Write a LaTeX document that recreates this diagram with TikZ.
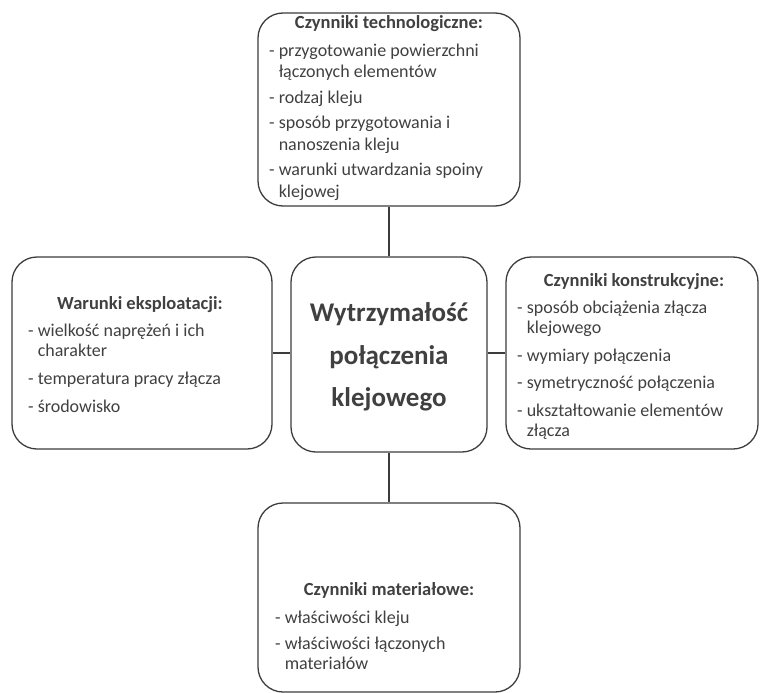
\documentclass[tikz,border=0pt]{standalone}
\usepackage{fontspec}
\setmainfont{Carlito}
\definecolor{ink}{HTML}{404040}
\definecolor{edge}{HTML}{3C3C3C}
\tikzset{
  x=1pt, y=-1pt,
  box/.style={draw=edge, line width=1.3pt, rounded corners=25pt, inner sep=0pt},
  link/.style={draw=edge, line width=1.2pt},
  head/.style={text=ink, font=\fontsize{18.5}{21}\selectfont\bfseries, anchor=base, inner sep=0pt},
  items/.style={text=ink, anchor=north west, align=left, inner sep=0pt},
  core/.style={text=ink, font=\fontsize{27}{42.5}\selectfont\bfseries, align=center, anchor=north, inner sep=0pt}
}
\newcommand{\ind}{\hphantom{- }}
\begin{document}
\begin{tikzpicture}
\useasboundingbox (0,0) rectangle (760,693);
% boxes
\node[box, minimum width=262pt, minimum height=193pt] (top) at (389,109.5) {};
\node[box, minimum width=260pt, minimum height=192pt] (left) at (142,353) {};
\node[box, minimum width=196pt, minimum height=195pt] (center) at (389,354.5) {};
\node[box, minimum width=252pt, minimum height=192pt] (right) at (632,353) {};
\node[box, minimum width=262pt, minimum height=189pt] (bottom) at (389,597.5) {};
% connectors
\draw[link] (top.south) -- (center.north);
\draw[link] (center.south) -- (bottom.north);
\draw[link] (left.east) -- (left.east -| center.west);
\draw[link] (right.west) -- (right.west -| center.east);
% center text
\node[core] (ctext) at (389,292) {\strut Wytrzymałość\\połączenia\\klejowego};
% top
\node[head] (toph) at (389,29) {Czynniki technologiczne:};
\node[items, font=\fontsize{18}{21.5}\selectfont] (topi) at (269,40.9) {\strut- przygotowanie powierzchni\\\ind łączonych elementów\\[4pt]- rodzaj kleju\\[4pt]- sposób przygotowania i\\\ind nanoszenia kleju\\[4pt]- warunki utwardzania spoiny\\\ind klejowej};
% left
\node[head] (lefth) at (140,309) {Warunki eksploatacji:};
\node[items, font=\fontsize{18}{20}\selectfont] (lefti) at (28,322) {\strut- wielkość naprężeń i ich\\\ind charakter\\[8pt]- temperatura pracy złącza\\[8pt]- środowisko};
% right
\node[head] (righth) at (634,286) {Czynniki konstrukcyjne:};
\node[items, font=\fontsize{18}{20.5}\selectfont] (righti) at (517,298.6) {\strut- sposób obciążenia złącza\\\ind klejowego\\[7pt]- wymiary połączenia\\[7pt]- symetryczność połączenia\\[7pt]- ukształtowanie elementów\\\ind złącza};
% bottom
\node[head] (bottomh) at (389,595) {Czynniki materiałowe:};
\node[items, font=\fontsize{18}{20}\selectfont] (bottomi) at (275,609) {\strut- właściwości kleju\\[6pt]- właściwości łączonych\\\ind materiałów};
\end{tikzpicture}
\end{document}
